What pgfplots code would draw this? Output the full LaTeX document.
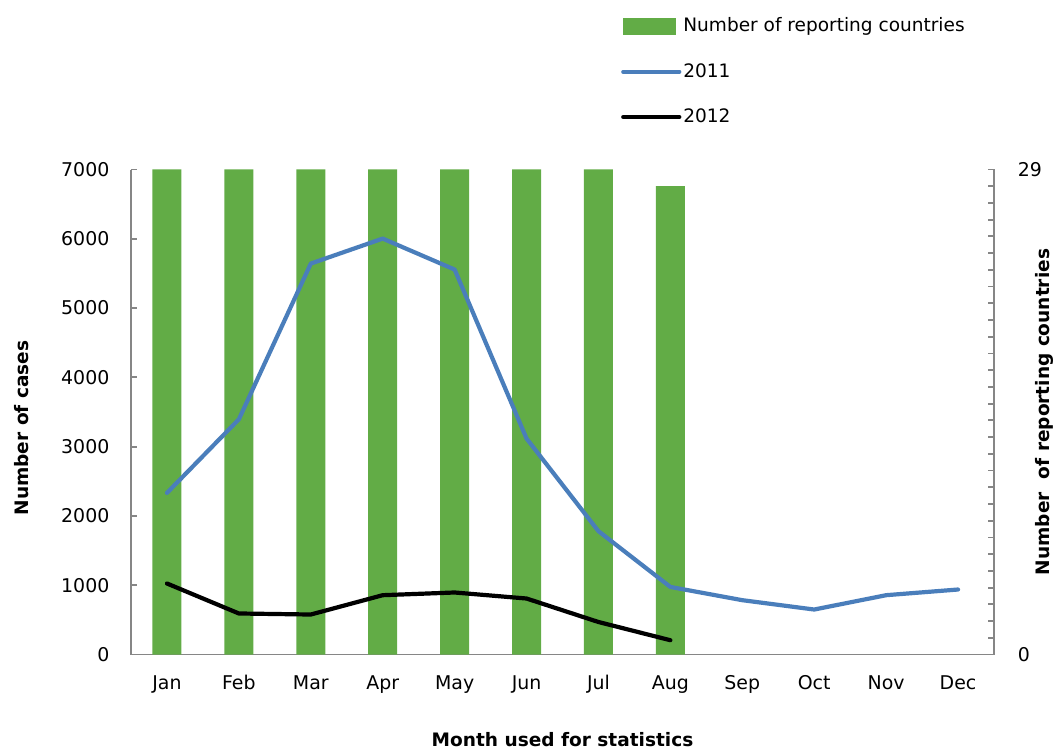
\documentclass[border=0pt]{standalone}
\usepackage{pgfplots}
\pgfplotsset{compat=1.18}
\usepackage{fontspec}
\setmainfont{DejaVu Sans}
\definecolor{barg}{HTML}{62AC46}
\definecolor{lblue}{HTML}{4A7EBB}
\definecolor{axgray}{HTML}{868686}
\begin{document}
\begin{tikzpicture}[font=\fontsize{9.3}{11}\selectfont]
\pgfplotsset{
  base/.style={
    scale only axis, width=431.5bp, height=242.5bp,
    xmin=-0.5, xmax=11.5,
    /pgf/number format/assume math mode=true,
    /pgf/number format/1000 sep={},
    tick label style={font=\fontsize{9.5}{11}\selectfont},
    separate axis lines,
    axis line style={-, axgray, line width=0.9bp},
    every outer x axis line/.append style={-},
    every outer y axis line/.append style={-},
    tick style={axgray, line width=0.9bp},
    tick align=inside,
    major tick length=3bp, minor tick length=3bp,
  }
}
% bars: number of reporting countries (right axis)
\begin{axis}[base, name=ax,
  axis y line*=right, axis x line*=bottom,
  ymin=0, ymax=29, ytick={0,29}, minor ytick={1,...,28},
  xtick={0,...,11},
  xticklabels={Jan,Feb,Mar,Apr,May,Jun,Jul,Aug,Sep,Oct,Nov,Dec},
  x tick style={draw=none},
  xticklabel style={yshift=-7bp},
  yticklabel style={xshift=8.4bp},
  xlabel={Month used for statistics},
  xlabel style={font=\fontsize{9.3}{11}\selectfont\bfseries, at={(axis description cs:0.5,-0.176)}, anchor=center},
  ylabel={Number\ \ of reporting countries},
  ylabel style={font=\fontsize{9.3}{11}\selectfont\bfseries, at={(axis description cs:1.059,0.5)}, anchor=center},
]
\addplot[ybar, bar width=14.5bp, bar shift=0pt, fill=barg, draw=none]
  coordinates {(0,29) (1,29) (2,29) (3,29) (4,29) (5,29) (6,29) (7,28)};
\end{axis}
% lines: number of cases (left axis)
\begin{axis}[base,
  axis y line*=left, axis x line=none,
  ymin=0, ymax=7000, ytick={0,1000,...,7000},
  yticklabel style={xshift=-7.3bp},
  scaled y ticks=false,
  ylabel={Number of cases},
  ylabel style={font=\fontsize{9.3}{11}\selectfont\bfseries, at={(axis description cs:-0.1266,0.467)}, anchor=center},
  legend style={at={(rel axis cs:0.5675,1.318)}, anchor=north west, draw=none, fill=none,
    inner sep=0pt, row sep=12.3bp, nodes={inner sep=1bp}, font=\fontsize{9.3}{11}\selectfont},
  legend cell align=left,
  legend image code/.code={\draw[#1, line cap=round] (0bp,0bp) -- (28bp,0bp);},
]
\addlegendimage{legend image code/.code={\fill[barg] (0bp,-4bp) rectangle (26bp,4bp);}}
\addlegendentry{Number of reporting countries}
\addplot[lblue, line width=2.1bp, line join=round, line cap=round] coordinates {
  (0,2332) (1,3395) (2,5642) (3,6003) (4,5556) (5,3117)
  (6,1780) (7,975) (8,784) (9,649) (10,856) (11,938)};
\addlegendentry{2011}
\addplot[black, line width=2.1bp, line join=round, line cap=round] coordinates {
  (0,1025) (1,592) (2,577) (3,856) (4,895) (5,808) (6,469) (7,206)};
\addlegendentry{2012}
\end{axis}
\pgfresetboundingbox
\path (ax.south west) ++(-65.5bp,-47.25bp) rectangle ++(528bp,374.5bp);
\end{tikzpicture}
\end{document}
